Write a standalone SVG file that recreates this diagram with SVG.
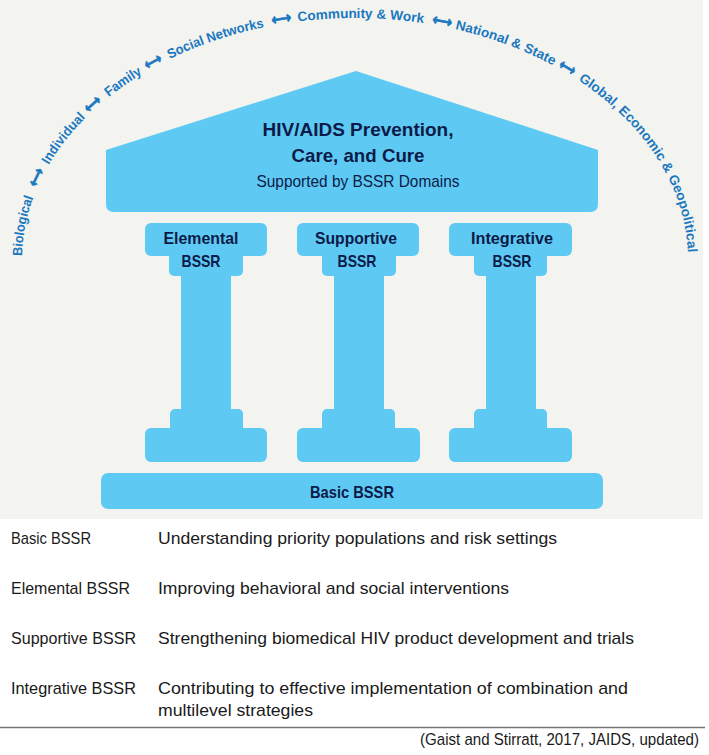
<svg xmlns="http://www.w3.org/2000/svg" width="709" height="755" viewBox="0 0 709 755">
  <defs>
    <style>
      .bg { fill: #f3f3f0; }
      .blk { fill: #5ecaf4; }
      .ttl { font-family: "Liberation Sans", Arial, sans-serif; font-weight: bold; fill: #0c1a48; }
      .sub { font-family: "Liberation Sans", Arial, sans-serif; font-weight: normal; fill: #0c1a48; }
      .arc { font-family: "Liberation Sans", Arial, sans-serif; font-weight: bold; font-size: 13.5px; fill: #1b78bf; }
      .arr { font-family: "DejaVu Sans", sans-serif; font-weight: bold; font-size: 16px; fill: #1b78bf; stroke: #1b78bf; stroke-width: 0.7px; }
      .tbl { font-family: "Liberation Sans", Arial, sans-serif; font-size: 17px; fill: #1a1a1a; }
    </style>
    <path id="arcPath" d="M 22,260 A 333,242 0 0 1 688,260" fill="none"/>
  </defs>

  <rect class="bg" x="0" y="0" width="703" height="519"/>

  <g id="scale-arc">
    <text class="arc"><textPath href="#arcPath" startOffset="4" textLength="60" lengthAdjust="spacingAndGlyphs">Biological</textPath></text>
    <text class="arr"><textPath href="#arcPath" startOffset="74" textLength="19" lengthAdjust="spacingAndGlyphs">⟷</textPath></text>
    <text class="arc"><textPath href="#arcPath" startOffset="100" textLength="60" lengthAdjust="spacingAndGlyphs">Individual</textPath></text>
    <text class="arr"><textPath href="#arcPath" startOffset="165" textLength="18" lengthAdjust="spacingAndGlyphs">⟷</textPath></text>
    <text class="arc"><textPath href="#arcPath" startOffset="191" textLength="41" lengthAdjust="spacingAndGlyphs">Family</textPath></text>
    <text class="arr"><textPath href="#arcPath" startOffset="238" textLength="18" lengthAdjust="spacingAndGlyphs">⟷</textPath></text>
    <text class="arc"><textPath href="#arcPath" startOffset="263" textLength="100" lengthAdjust="spacingAndGlyphs">Social Networks</textPath></text>
    <text class="arr"><textPath href="#arcPath" startOffset="371" textLength="20" lengthAdjust="spacingAndGlyphs">⟷</textPath></text>
    <text class="arc"><textPath href="#arcPath" startOffset="397" textLength="126" lengthAdjust="spacingAndGlyphs">Community &amp; Work</textPath></text>
    <text class="arr"><textPath href="#arcPath" startOffset="531" textLength="20" lengthAdjust="spacingAndGlyphs">⟷</textPath></text>
    <text class="arc"><textPath href="#arcPath" startOffset="555" textLength="105" lengthAdjust="spacingAndGlyphs">National &amp; State</textPath></text>
    <text class="arr"><textPath href="#arcPath" startOffset="665" textLength="17" lengthAdjust="spacingAndGlyphs">⟷</textPath></text>
    <text class="arc"><textPath href="#arcPath" startOffset="689" textLength="212" lengthAdjust="spacingAndGlyphs">Global, Economic &amp; Geopolitical</textPath></text>
  </g>

  <g id="roof">
    <path class="blk" d="M 106,150 L 356,71 L 598,150 L 598,204 Q 598,212 590,212 L 114,212 Q 106,212 106,204 Z"/>
    <text class="ttl" x="358" y="136" font-size="19" text-anchor="middle" textLength="191" lengthAdjust="spacingAndGlyphs">HIV/AIDS Prevention,</text>
    <text class="ttl" x="358" y="162" font-size="19" text-anchor="middle" textLength="133" lengthAdjust="spacingAndGlyphs">Care, and Cure</text>
    <text class="sub" x="358" y="187" font-size="17" text-anchor="middle" textLength="203" lengthAdjust="spacingAndGlyphs">Supported by BSSR Domains</text>
  </g>

  <g id="col-elemental">
    <rect class="blk" x="145" y="223" width="122" height="33" rx="6"/>
    <rect class="blk" x="169" y="249" width="74" height="27" rx="5"/>
    <rect class="blk" x="181" y="270" width="50" height="145"/>
    <rect class="blk" x="170" y="409" width="73" height="25" rx="5"/>
    <rect class="blk" x="145" y="428" width="122" height="34" rx="6"/>
    <text class="ttl" x="201" y="244" font-size="17" text-anchor="middle" textLength="75" lengthAdjust="spacingAndGlyphs">Elemental</text>
    <text class="ttl" x="201" y="267" font-size="17" text-anchor="middle" textLength="39" lengthAdjust="spacingAndGlyphs">BSSR</text>
  </g>

  <g id="col-supportive">
    <rect class="blk" x="297" y="223" width="122" height="33" rx="6"/>
    <rect class="blk" x="322" y="249" width="74" height="27" rx="5"/>
    <rect class="blk" x="334" y="270" width="50" height="145"/>
    <rect class="blk" x="322" y="409" width="73" height="25" rx="5"/>
    <rect class="blk" x="297" y="428" width="123" height="34" rx="6"/>
    <text class="ttl" x="356" y="244" font-size="17" text-anchor="middle" textLength="82" lengthAdjust="spacingAndGlyphs">Supportive</text>
    <text class="ttl" x="357" y="267" font-size="17" text-anchor="middle" textLength="39" lengthAdjust="spacingAndGlyphs">BSSR</text>
  </g>

  <g id="col-integrative">
    <rect class="blk" x="449" y="223" width="123" height="33" rx="6"/>
    <rect class="blk" x="474" y="249" width="73" height="27" rx="5"/>
    <rect class="blk" x="486" y="270" width="50" height="145"/>
    <rect class="blk" x="474" y="409" width="73" height="25" rx="5"/>
    <rect class="blk" x="449" y="428" width="123" height="34" rx="6"/>
    <text class="ttl" x="512" y="244" font-size="17" text-anchor="middle" textLength="82" lengthAdjust="spacingAndGlyphs">Integrative</text>
    <text class="ttl" x="512" y="267" font-size="17" text-anchor="middle" textLength="39" lengthAdjust="spacingAndGlyphs">BSSR</text>
  </g>

  <g id="base">
    <rect class="blk" x="101" y="473" width="502" height="36" rx="7"/>
    <text class="ttl" x="352" y="498" font-size="17" text-anchor="middle" textLength="84" lengthAdjust="spacingAndGlyphs">Basic BSSR</text>
  </g>

  <g id="legend">
    <text class="tbl" x="11" y="544" textLength="80" lengthAdjust="spacingAndGlyphs">Basic BSSR</text>
    <text class="tbl" x="158" y="544" textLength="399" lengthAdjust="spacingAndGlyphs">Understanding priority populations and risk settings</text>
    <text class="tbl" x="11" y="594" textLength="119" lengthAdjust="spacingAndGlyphs">Elemental BSSR</text>
    <text class="tbl" x="158" y="594" textLength="351" lengthAdjust="spacingAndGlyphs">Improving behavioral and social interventions</text>
    <text class="tbl" x="11" y="644" textLength="125" lengthAdjust="spacingAndGlyphs">Supportive BSSR</text>
    <text class="tbl" x="158" y="644" textLength="476" lengthAdjust="spacingAndGlyphs">Strengthening biomedical HIV product development and trials</text>
    <text class="tbl" x="11" y="694" textLength="125" lengthAdjust="spacingAndGlyphs">Integrative BSSR</text>
    <text class="tbl" x="158" y="694" textLength="470" lengthAdjust="spacingAndGlyphs">Contributing to effective implementation of combination and</text>
    <text class="tbl" x="158" y="716" textLength="155" lengthAdjust="spacingAndGlyphs">multilevel strategies</text>
    <line x1="0" y1="727.5" x2="705" y2="727.5" stroke="#777777" stroke-width="1.6"/>
    <text class="tbl" x="420" y="745" font-size="15" textLength="279" lengthAdjust="spacingAndGlyphs">(Gaist and Stirratt, 2017, JAIDS, updated)</text>
  </g>
</svg>
